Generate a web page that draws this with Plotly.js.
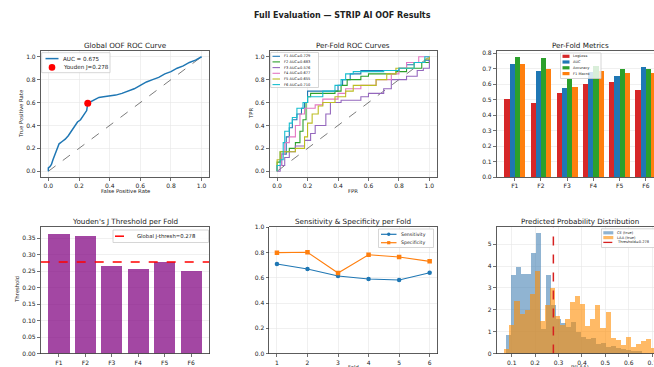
<!DOCTYPE html>
<html><head><meta charset="utf-8">
<script src="https://cdn.plot.ly/plotly-3.0.1.min.js"></script>
<style>html,body{margin:0;padding:0;overflow:hidden;background:#fff;width:654px;height:367px}#c{width:680px;height:367px}</style>
</head><body><div id="c"></div>
<script>
// ---------- DATA ----------
const globalFpr = [0,0,0.01,0.02,0.03,0.04,0.05,0.06,0.07,0.09,0.11,0.13,0.15,0.17,0.19,0.21,0.23,0.25,0.257,0.28,0.3,0.33,0.36,0.4,0.44,0.48,0.52,0.56,0.6,0.64,0.68,0.72,0.76,0.8,0.84,0.88,0.92,0.96,1];
const globalTpr = [0,0.03,0.04,0.06,0.1,0.14,0.18,0.22,0.24,0.26,0.28,0.31,0.35,0.4,0.43,0.45,0.49,0.53,0.593,0.61,0.62,0.645,0.65,0.655,0.665,0.68,0.7,0.72,0.75,0.78,0.8,0.82,0.85,0.87,0.9,0.92,0.95,0.97,1.0];
const globalAuc = 0.675;
const youdenFpr = 0.257, youdenTpr = 0.593;
const globalThresh = 0.278;

const foldNames = ["F1","F2","F3","F4","F5","F6"];
const foldAuc = [0.729,0.683,0.576,0.677,0.655,0.710];
const foldFpr = [
 [0,0,0.03,0.06,0.08,0.1,0.13,0.16,0.18,0.2,0.4,0.43,0.48,0.55,0.8,0.85,0.9,0.97,1],
 [0,0,0.02,0.08,0.12,0.15,0.17,0.19,0.2,0.22,0.38,0.42,0.46,0.55,0.6,0.78,0.85,0.95,1],
 [0,0.02,0.05,0.08,0.12,0.18,0.22,0.25,0.32,0.35,0.42,0.55,0.6,0.7,0.75,0.85,0.92,0.96,1],
 [0,0,0.03,0.05,0.08,0.12,0.15,0.18,0.25,0.3,0.4,0.45,0.55,0.65,0.75,0.8,0.85,0.93,1],
 [0,0,0.02,0.08,0.12,0.18,0.2,0.23,0.27,0.3,0.38,0.45,0.5,0.65,0.72,0.78,0.9,0.97,1],
 [0,0,0.02,0.04,0.05,0.08,0.1,0.13,0.17,0.2,0.3,0.38,0.42,0.45,0.5,0.7,0.8,0.9,0.97,1]
];
const foldTpr = [
 [0,0.05,0.15,0.3,0.38,0.45,0.5,0.55,0.6,0.7,0.75,0.8,0.85,0.88,0.9,0.93,0.95,0.97,1],
 [0,0.08,0.17,0.2,0.25,0.35,0.45,0.6,0.65,0.68,0.7,0.75,0.8,0.83,0.85,0.87,0.9,0.95,1],
 [0,0.05,0.12,0.17,0.22,0.27,0.33,0.4,0.5,0.6,0.62,0.65,0.68,0.72,0.8,0.83,0.88,0.9,1],
 [0,0.05,0.15,0.25,0.3,0.4,0.5,0.55,0.58,0.63,0.68,0.72,0.75,0.8,0.85,0.9,0.95,1,1],
 [0,0.1,0.17,0.17,0.2,0.3,0.42,0.5,0.57,0.6,0.65,0.7,0.75,0.8,0.85,0.9,0.95,0.98,1],
 [0,0.05,0.1,0.25,0.35,0.42,0.47,0.55,0.6,0.65,0.7,0.75,0.8,0.85,0.87,0.88,0.9,0.95,1,1]
];
const foldColors = ["#1f77b4","#2ca02c","#9467bd","#e377c2","#bcbd22","#17becf"];

const metricNames = ["LogLoss","AUC","Accuracy","F1 Macro"];
const logLoss  = [0.505,0.48,0.54,0.60,0.615,0.56];
const aucVals  = [0.729,0.683,0.576,0.677,0.655,0.710];
const accVals  = [0.775,0.772,0.63,0.72,0.70,0.70];
const f1Vals   = [0.73,0.695,0.58,0.683,0.67,0.67];
const metricColors = ["#d62728","#1f77b4","#2ca02c","#ff7f0e"];

const foldThresh = [0.364,0.358,0.265,0.257,0.277,0.249];

const foldNums = [1,2,3,4,5,6];
const sensVals = [0.709,0.669,0.614,0.590,0.582,0.640];
const specVals = [0.799,0.802,0.638,0.783,0.765,0.730];

const ceBinStart = [0.074,0.0955,0.117,0.1385,0.160,0.1815,0.203,0.2245,0.246,0.2675,0.289,0.3105,0.332,0.3535,0.375,0.3965,0.418,0.4395,0.461,0.4825,0.504,0.5255,0.547,0.5685,0.590,0.6115,0.633];
const ceDensity  = [0.85,3.6,3.95,3.65,3.65,4.6,5.5,1.1,3.6,2.2,1.6,1.4,1.2,1.45,1.0,0.75,0.65,0.7,0.45,0.5,0.3,0.35,0.25,0.2,0.15,0.1,0.1];
const ceBinWidth = 0.0215;
const laaBinStart = [0.0686,0.0902,0.1118,0.1334,0.155,0.1766,0.1982,0.2198,0.2414,0.263,0.2846,0.3062,0.3278,0.3494,0.371,0.3926,0.4142,0.4358,0.4574,0.479,0.5006,0.5222,0.5438,0.5654,0.587,0.6086,0.6302,0.6518,0.6734,0.695];
const laaDensity  = [0.2,1.3,2.4,1.8,2.0,2.7,3.75,1.5,2.2,3.0,1.7,1.3,1.6,2.35,2.65,2.25,1.25,1.6,2.2,1.15,1.9,0.7,0.6,0.4,0.75,0.3,0.45,0.55,0.65,0.25];
const laaBinWidth = 0.0216;

// ---------- LAYOUT HELPERS ----------
const W = 680, H = 367;
const dx = (a,b)=>[a/W, b/W];
const dy = (top,bot)=>[1-bot/H, 1-top/H];
const F = "DejaVu Sans, Arial, sans-serif";
const tickFont = {family:F, size:6, color:"#222"};
function ax(domain, range, extra){
  return Object.assign({domain:domain, range:range, showline:true, mirror:true, linecolor:"#333", linewidth:0.8,
    ticks:"outside", ticklen:3, tickwidth:0.7, tickcolor:"#333", tickfont:tickFont, showgrid:true,
    gridcolor:"#e6e6e6", gridwidth:0.6, zeroline:false, fixedrange:true}, extra||{});
}
const traces = [];
const diag = {x:[0,1], y:[0,1], mode:"lines", line:{color:"rgba(0,0,0,0.65)", width:0.8, dash:"dash"}};
const blueCol = "rgba(70,130,180,0.6)", orangeCol = "rgba(255,140,0,0.6)";

// Panel 1
traces.push(Object.assign({}, diag, {xaxis:"x", yaxis:"y"}));
traces.push({x:globalFpr, y:globalTpr, mode:"lines", line:{color:"#1f77b4", width:1.5}, xaxis:"x", yaxis:"y"});
traces.push({x:[youdenFpr], y:[youdenTpr], mode:"markers", marker:{color:"red", size:7}, xaxis:"x", yaxis:"y"});

// Panel 2
traces.push(Object.assign({}, diag, {xaxis:"x2", yaxis:"y2"}));
for(let i=0;i<6;i++){
  traces.push({x:foldFpr[i], y:foldTpr[i], mode:"lines", line:{color:foldColors[i], width:1.1, shape:"hv"}, xaxis:"x2", yaxis:"y2"});
}

// Panel 3
const metricData = [logLoss, aucVals, accVals, f1Vals];
for(let m=0;m<4;m++){
  traces.push({type:"bar", x:foldNames.map((_,i)=>i), y:metricData[m], width:0.2, offset:-0.4+0.2*m,
    marker:{color:metricColors[m], line:{width:0}}, xaxis:"x3", yaxis:"y3"});
}

// Panel 4
traces.push({type:"bar", x:foldNames.map((_,i)=>i), y:foldThresh, width:0.8,
  marker:{color:"rgba(128,0,128,0.72)", line:{width:0}}, xaxis:"x4", yaxis:"y4"});
traces.push({x:[-0.69,5.69], y:[globalThresh,globalThresh], mode:"lines", line:{color:"red", width:1.5, dash:"dash"}, xaxis:"x4", yaxis:"y4"});

// Panel 5
traces.push({x:foldNums, y:sensVals, mode:"lines+markers", line:{color:"#1f77b4", width:1.1}, marker:{symbol:"circle", size:4.5, color:"#1f77b4"}, xaxis:"x5", yaxis:"y5"});
traces.push({x:foldNums, y:specVals, mode:"lines+markers", line:{color:"#ff7f0e", width:1.1}, marker:{symbol:"square", size:4.5, color:"#ff7f0e"}, xaxis:"x5", yaxis:"y5"});

// Panel 6
traces.push({type:"bar", x:ceBinStart, y:ceDensity, width:ceBinWidth, offset:0, marker:{color:blueCol, line:{width:0}}, xaxis:"x6", yaxis:"y6"});
traces.push({type:"bar", x:laaBinStart, y:laaDensity, width:laaBinWidth, offset:0, marker:{color:orangeCol, line:{width:0}}, xaxis:"x6", yaxis:"y6"});
traces.push({x:[globalThresh,globalThresh], y:[0,5.77], mode:"lines", line:{color:"#d62020", width:1.5, dash:"dash"}, xaxis:"x6", yaxis:"y6"});

const p1x = dx(40.7,209.3), p2x = dx(269.5,437), p3x = dx(496.7,663.9);
const topY = dy(51,177), botY = dy(227.3,353.5);
const tv01 = [0,0.2,0.4,0.6,0.8,1.0];

const shapes = [], annotations = [];
const px = v=>v/W, py = v=>1-v/H;
function ann(text,x,y,size,extra){
  annotations.push(Object.assign({text:text, x:px(x), y:py(y), xref:"paper", yref:"paper", showarrow:false,
    font:{family:F,size:size,color:"#222"}, xanchor:"center", yanchor:"middle"}, extra||{}));
}
// manual legend: box (x0,y0,x1,y1), items with row y, sample from sx0..sx1, text at tx
function legend(box, rows, sx0, sx1, tx, size, items){
  shapes.push({type:"rect", xref:"paper", yref:"paper", x0:px(box[0]), x1:px(box[2]), y0:py(box[3]), y1:py(box[1]),
    fillcolor:"rgba(255,255,255,0.82)", line:{color:"#cccccc", width:0.8}});
  items.forEach((it,i)=>{
    const y = rows[i];
    if(it.kind==="line" || it.kind==="linemarker"){
      shapes.push({type:"line", xref:"paper", yref:"paper", x0:px(sx0), x1:px(sx1), y0:py(y), y1:py(y),
        line:{color:it.color, width:it.width||1.2, dash:it.dash||"solid"}});
    }
    if(it.kind==="linemarker" || it.kind==="marker"){
      const cx=(sx0+sx1)/2, r=it.r||1.6;
      shapes.push({type:it.symbol==="square"?"rect":"circle", xref:"paper", yref:"paper", x0:px(cx-r), x1:px(cx+r), y0:py(y+r), y1:py(y-r),
        fillcolor:it.color, line:{color:it.color, width:0}});
    }
    if(it.kind==="rect"){
      shapes.push({type:"rect", xref:"paper", yref:"paper", x0:px(sx0), x1:px(sx1), y0:py(y+1.6), y1:py(y-1.6),
        fillcolor:it.color, line:{width:0}});
    }
    ann(it.label, tx, y, size, {xanchor:"left"});
  });
}

legend([41.7,52.7,110,72.7],[58.6,67.4],45.5,58.5,61,5.6,[
  {kind:"line", color:"#1f77b4", width:1.5, label:"AUC = "+globalAuc.toFixed(3)},
  {kind:"marker", color:"red", r:3.3, label:"Youden J="+globalThresh.toFixed(3)}
]);
legend([270.7,52.5,318.5,87.5],[56.3,61.9,67.6,73.3,79,84.6],272.5,280,281.5,3.6,
  foldNames.map((n,i)=>({kind:"line", color:foldColors[i], width:1.1, label:n+" AUC="+foldAuc[i].toFixed(3)})));
legend([560.5,53,601,78.5],[56.3,62,67.8,73.6],562.5,569.5,571,3.6,
  metricNames.map((n,i)=>({kind:"rect", color:metricColors[i], label:n})));
legend([113,230,208.5,242.5],[236.2],115,131.5,135,5.3,[
  {kind:"line", color:"red", width:1.5, dash:"dash", label:"Global J-thresh="+globalThresh.toFixed(3)}
]);
legend([378.5,229,433.5,247.5],[234.3,242.7],381,396.5,399.3,4.7,[
  {kind:"linemarker", color:"#1f77b4", symbol:"circle", r:1.7, label:"Sensitivity"},
  {kind:"linemarker", color:"#ff7f0e", symbol:"square", r:1.6, label:"Specificity"}
]);
legend([601.5,228.8,670,247.5],[232.8,237.6,242.4],603.3,613.3,615,3.6,[
  {kind:"rect", color:blueCol, label:"CE (true)"},
  {kind:"rect", color:orangeCol, label:"LAA (true)"},
  {kind:"line", color:"#d62020", width:1.3, dash:"dash", label:"Threshold="+globalThresh.toFixed(3)}
]);

ann("<b>Full Evaluation — STRIP AI OOF Results</b>", 342, 15, 8);
ann("Global OOF ROC Curve", 125, 45, 7.2);
ann("Per-Fold ROC Curves", 353, 45, 7.2);
ann("Per-Fold Metrics", 580, 45, 7.2);
ann("Youden's J Threshold per Fold", 125, 221.5, 7.2);
ann("Sensitivity & Specificity per Fold", 353, 221.5, 7.2);
ann("Predicted Probability Distribution", 580, 221.5, 7.2);
ann("False Positive Rate", 125, 191, 5.3);
ann("True Positive Rate", 21, 114, 5.3, {textangle:-90});
ann("FPR", 353, 191, 5.3);
ann("TPR", 251, 114, 5.3, {textangle:-90});
ann("Threshold", 17, 290, 5.3, {textangle:-90});
ann("Fold", 353, 366.5, 5.3);
ann("P(LAA)", 580, 366.5, 5.3);

const layout = {
  width:W, height:H, margin:{l:0,r:0,t:0,b:0}, paper_bgcolor:"#fff", plot_bgcolor:"#fff",
  barmode:"overlay", bargap:0, showlegend:false,
  xaxis: ax(p1x,[-0.05,1.05],{tickvals:tv01, tickformat:".1f", anchor:"y"}),
  yaxis: ax(topY,[-0.05,1.05],{tickvals:tv01, tickformat:".1f", anchor:"x"}),
  xaxis2: ax(p2x,[-0.05,1.05],{tickvals:tv01, tickformat:".1f", anchor:"y2"}),
  yaxis2: ax(topY,[-0.05,1.05],{tickvals:tv01, tickformat:".1f", anchor:"x2"}),
  xaxis3: ax(p3x,[-0.69,5.69],{tickvals:[0,1,2,3,4,5], ticktext:foldNames, showgrid:false, anchor:"y3"}),
  yaxis3: ax(topY,[0,0.814],{dtick:0.1, tickformat:".1f", anchor:"x3"}),
  xaxis4: ax(p1x,[-0.69,5.69],{tickvals:[0,1,2,3,4,5], ticktext:foldNames, showgrid:false, anchor:"y4"}),
  yaxis4: ax(botY,[0,0.383],{dtick:0.05, tickformat:".2f", anchor:"x4"}),
  xaxis5: ax(dx(269.3,437.3),[0.75,6.25],{tickvals:foldNums, anchor:"y5"}),
  yaxis5: ax(botY,[0,1],{dtick:0.2, tickformat:".1f", anchor:"x5"}),
  xaxis6: ax(p3x,[0.036,0.75],{dtick:0.1, tick0:0, tickformat:".1f", anchor:"y6"}),
  yaxis6: ax(botY,[0,5.77],{dtick:1, anchor:"x6"}),
  shapes: shapes,
  annotations: annotations
};
Plotly.newPlot("c", traces, layout, {staticPlot:true, displayModeBar:false});
</script>
</body></html>
